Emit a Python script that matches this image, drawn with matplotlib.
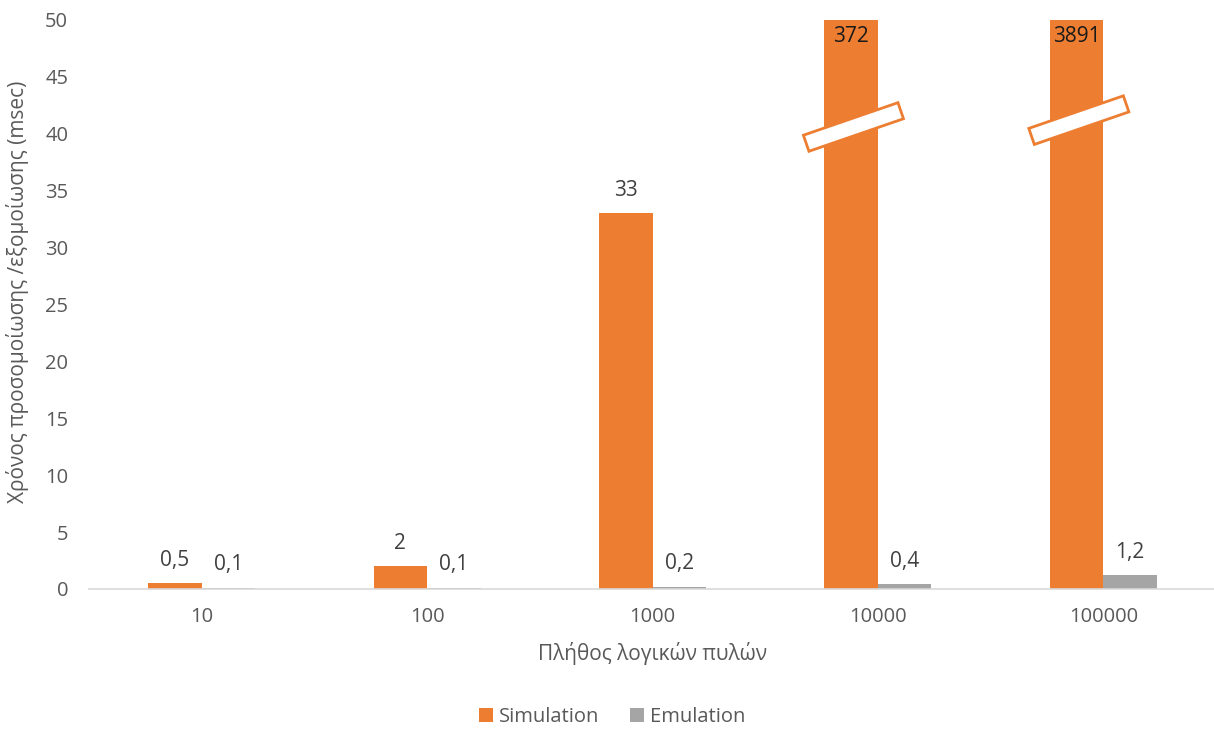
import matplotlib
matplotlib.use("Agg")
import matplotlib.pyplot as plt
import numpy as np
from matplotlib.patches import Rectangle
from matplotlib.transforms import Affine2D, ScaledTranslation

plt.rcParams['font.family'] = ['Open Sans', 'DejaVu Sans']

categories = ["10", "100", "1000", "10000", "100000"]
simulation = [0.5, 2, 33, 372, 3891]
emulation = [0.1, 0.1, 0.2, 0.4, 1.2]
y_ticks = [0, 5, 10, 15, 20, 25, 30, 35, 40, 45, 50]
series_names = ["Simulation", "Emulation"]
x_label = "Πλήθος λογικών πυλών"
y_label = "Χρόνος προσομοίωσης /εξομοίωσης (msec)"

ORANGE = "#ED7D31"
GRAY = "#A5A5A5"
TXT = "#595959"

fig = plt.figure(figsize=(12.14, 7.29), dpi=100)
ax = fig.add_axes([89/1214, 1-589/729, (1216-89)/1214, (589-20)/729])

ymax = 50
x = np.arange(len(categories))
w = 0.237
sim_draw = np.minimum(simulation, ymax)
ax.bar(x - w/2, sim_draw, w, color=ORANGE, label=series_names[0], zorder=2)
ax.bar(x + w/2, emulation, w, color=GRAY, label=series_names[1], zorder=2)

def fmt(v):
    return ("%g" % v).replace(".", ",")

for xi, v in zip(x, simulation):
    if v > ymax:
        ax.text(xi - w/2, ymax - 0.5, fmt(v), ha='center', va='top',
                fontsize=15, color='#1a1a1a', zorder=4)
        # break marker
        yb = 40.6 if v < 1000 else 41.2
        rect = Rectangle((-50, -8.5), 100, 17, facecolor='white', edgecolor=ORANGE,
                         linewidth=2, zorder=3)
        rect.set_transform(Affine2D().rotate_deg(19) + ScaledTranslation(xi - w/2 + 0.01, yb, ax.transData))
        rect.set_clip_on(False)
        ax.add_patch(rect)
    else:
        ax.annotate(fmt(v), (xi - w/2, v), xytext=(0, 9), textcoords='offset points',
                    ha='center', va='bottom', fontsize=15, color='#404040')
for xi, v in zip(x, emulation):
    ax.annotate(fmt(v), (xi + w/2, v), xytext=(0, 9), textcoords='offset points',
                ha='center', va='bottom', fontsize=15, color='#404040')

ax.set_xlim(-0.5, len(categories) - 0.5)
ax.set_ylim(0, ymax)
ax.set_yticks(y_ticks)
ax.set_xticks(x)
ax.set_xticklabels(categories)
ax.tick_params(axis='both', length=0, labelsize=14.5, colors=TXT)
ax.tick_params(axis='y', pad=15)
ax.tick_params(axis='x', pad=13)
for s in ['top', 'right', 'left']:
    ax.spines[s].set_visible(False)
ax.spines['bottom'].set_color('#D9D9D9')
ax.spines['bottom'].set_linewidth(1.2)

ax.set_xlabel(x_label, fontsize=15, color=TXT, labelpad=11)
fig.text(18/1214, 1-292/729, y_label, rotation=90, ha='center', va='center',
         fontsize=15, color=TXT)

leg = fig.legend(loc='center', bbox_to_anchor=(612/1214, 1-717/729), ncol=2,
                 frameon=False, fontsize=14.5, handlelength=0.7, handleheight=0.7,
                 handletextpad=0.3, columnspacing=1.5)
for t in leg.get_texts():
    t.set_color(TXT)

fig.savefig("out.png", dpi=100, facecolor='white')
